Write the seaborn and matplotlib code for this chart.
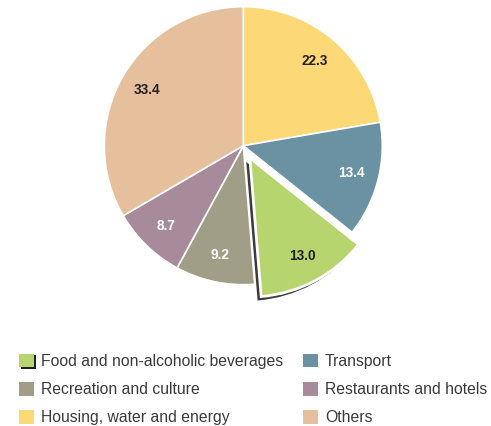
import matplotlib
matplotlib.use("Agg")
import matplotlib.pyplot as plt
from matplotlib.patches import Shadow
import seaborn as sns

categories = ["Housing, water and energy", "Transport", "Food and non-alcoholic beverages",
              "Recreation and culture", "Restaurants and hotels", "Others"]
values = [22.3, 13.4, 13.0, 9.2, 8.7, 33.4]
colors = ["#fcd877", "#6a92a2", "#b6d56f", "#a09e86", "#a88b9a", "#e6c09c"]
label_colors = ["#231f20", "white", "#231f20", "white", "white", "#231f20"]
explode = [0, 0, 0.1, 0, 0, 0]
legend_order = [2, 3, 0, 1, 4, 5]

sns.set_theme(style="white")
plt.rcParams["font.family"] = ["Liberation Sans", "DejaVu Sans"]

DPI = 100
fig = plt.figure(figsize=(4.91, 4.26), dpi=DPI)
R = 139.0
cx, cy = 243.3, 426 - 145.7
half = 1.25 * R
ax = fig.add_axes([(cx - half) / 491, (cy - half) / 426, 2 * half / 491, 2 * half / 426])
ax.set_facecolor("none")

wedges, texts, autotexts = ax.pie(
    values, colors=colors, startangle=90, counterclock=False, explode=explode,
    autopct=lambda p: f"{p:.1f}", pctdistance=0.8,
    wedgeprops=dict(edgecolor="white", linewidth=1.2),
    textprops=dict(fontsize=9.8, fontweight="bold"))
for t, c in zip(autotexts, label_colors):
    t.set_color(c)
ax.set_xlim(-1.25, 1.25)
ax.set_ylim(-1.25, 1.25)
ax.axis("off")

food = wedges[2]
food.set_linewidth(2)
# shadow offset given in data units scaled by dpi/72 -> ~4 px left / down
off = 4.0 / R * 72 / DPI
sh = Shadow(food, -off * 0.9, -off, facecolor="#3c3c3c", edgecolor="none", alpha=1)
ax.add_patch(sh)
sh.set_zorder(food.get_zorder() - 0.01)

handles = [wedges[i] for i in legend_order]
labels = [categories[i] for i in legend_order]
leg = fig.legend(handles, labels, ncol=2, loc="upper left",
                 bbox_to_anchor=(19 / 491, (426 - 353.5) / 426), frameon=False,
                 fontsize=11.3, handlelength=0.96, handleheight=0.96,
                 handletextpad=0.45, labelspacing=0.84, columnspacing=1.25,
                 borderpad=0, borderaxespad=0)
for t in leg.get_texts():
    t.set_color("#3a3a3a")
for h in leg.legend_handles:
    h.set_edgecolor("none")
    h.set_linewidth(0)

fig.canvas.draw()
lh = leg.legend_handles[0]
lsh = Shadow(lh, 1.0, -1.0, facecolor="#222222", edgecolor="none", alpha=1)
lsh.set_zorder(-1)
fig.add_artist(lsh)

fig.savefig("out.png", dpi=DPI)
